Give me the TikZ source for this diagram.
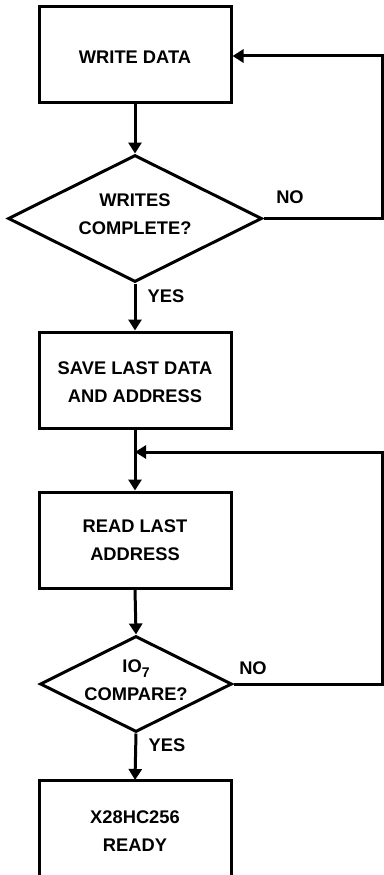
\documentclass[tikz,border=0pt]{standalone}
\usepackage{fontspec}
\setmainfont{Liberation Sans}
\usetikzlibrary{arrows.meta,shapes.geometric}
\begin{document}
\begin{tikzpicture}[x=1pt,y=-1pt,
  line width=3pt,
  every node/.style={font=\fontsize{18.3}{28}\selectfont\bfseries, align=center},
  procbox/.style={draw, rectangle, minimum width=192pt, minimum height=95pt, inner sep=0pt},
  decide/.style={draw, diamond, inner sep=0pt},
  lbl/.style={inner sep=0pt},
  arr/.style={-{Triangle[length=11pt,width=13pt]}},
  conn/.style={line join=miter}
]
\useasboundingbox[fill=white] (0,0) rectangle (383,875);

\node[procbox] (b1) at (135,54.5) {};
\node at (135,57) {WRITE DATA};

\node[decide, minimum width=254pt, minimum height=127pt] (d1) at (135,218.5) {};
\node at (135,214) {WRITES\\COMPLETE?};

\node[procbox, minimum height=96pt] (b2) at (135,380) {};
\node at (135,382) {SAVE LAST DATA\\AND ADDRESS};

\node[procbox, minimum height=96pt] (b3) at (135,540) {};
\node at (135,540) {READ LAST\\ADDRESS};

\node[decide, minimum width=192pt, minimum height=96pt] (d2) at (136,684) {};
\node at (136,680) {IO\raisebox{-0.55ex}{\fontsize{14}{14}\selectfont 7}\\COMPARE?};

\coordinate (b4nw) at (39,780);
\coordinate (b4ne) at (231,780);
\coordinate (b4sw) at (39,877);
\coordinate (b4se) at (231,877);
\coordinate (b4n) at (135,780);
\draw[line join=miter] (b4sw) -- (b4nw) -- (b4ne) -- (b4se);
\node at (135,831) {X28HC256\\READY};

% labels
\node[lbl] (no1) at (290,197) {NO};
\node[lbl] (yes1) at (166,296) {YES};
\node[lbl] (no2) at (253,668) {NO};
\node[lbl] (yes2) at (167,745) {YES};

% connectors
\coordinate (r1a) at (382,218.5);
\coordinate (r1b) at (382,56);
\coordinate (r2a) at (382,684);
\coordinate (r2b) at (382,452);
\coordinate (j) at (135,452);

\draw[arr] (b1.south) -- (d1.north);
\draw[arr] (d1.south) -- (b2.north);
\draw (b2.south) -- (j);
\draw[arr] (j) -- (b3.north);
\draw[arr] (b3.south) -- (d2.north);
\draw[arr] (d2.south) -- (b4n);
\draw[arr, conn] (d1.east) -- (r1a) -- (r1b) -- (b1.east |- r1b);
\draw[arr, conn] (d2.east) -- (r2a) -- (r2b) -- (j);
\end{tikzpicture}
\end{document}
